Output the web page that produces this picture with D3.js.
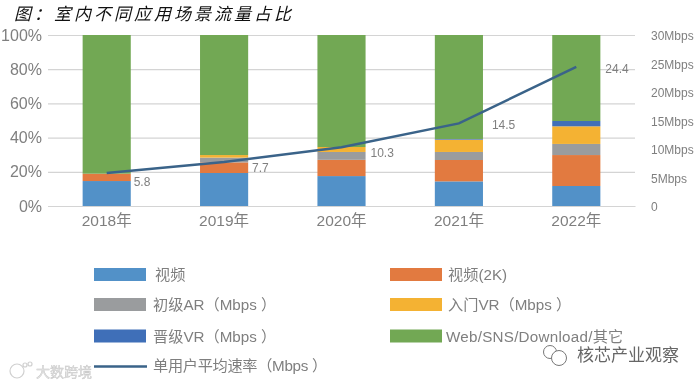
<!DOCTYPE html>
<html>
<head>
<meta charset="utf-8">
<script src="https://cdn.jsdelivr.net/npm/d3@7"></script>
<style>
  html, body { margin: 0; padding: 0; background: #fff; }
  svg { display: block; filter: blur(0.35px); }
  text { font-family: "Liberation Sans", "Noto Sans CJK SC", sans-serif; }
</style>
</head>
<body>
<div id="chart"></div>
<script>
const years = ['2018年', '2019年', '2020年', '2021年', '2022年']
const seriesNames = ['视频', '视频(2K)', '初级AR（Mbps ）', '入门VR（Mbps ）', '晋级VR（Mbps ）', 'Web/SNS/Download/其它']
const seriesColors = ['#5291c8', '#e27a40', '#9a9c9e', '#f4b233', '#3f6fb8', '#72a854']

// share of traffic per year, in percent
const video = [14.6, 19.3, 17.5, 14.4, 11.7]
const video2k = [4.3, 6.2, 9.5, 12.5, 18.1]
const basicAr = [0, 2.8, 4.6, 4.7, 6.5]
const entryVr = [0, 1.5, 2.9, 7.2, 10.3]
const advancedVr = [0, 0, 0, 0.4, 3.1]
const other = [81.1, 70.2, 65.5, 60.8, 50.3]
const seriesValues = [video, video2k, basicAr, entryVr, advancedVr, other]

const lineName = '单用户平均速率（Mbps ）'
const lineColor = '#3a6389'
const speed = [5.8, 7.7, 10.3, 14.5, 24.4]

const leftTicks = [0, 20, 40, 60, 80, 100]
const rightTicks = [0, 5, 10, 15, 20, 25, 30]

const width = 700, height = 385
const margin = {top: 35, right: 65, bottom: 179, left: 48}
const grey = '#7f7f7f'

const svg = d3.select('#chart').append('svg')
    .attr('width', width)
    .attr('height', height)

const plot = svg.append('g')
    .attr('transform', `translate(${margin.left}, ${margin.top})`)
const plotWidth = width - margin.left - margin.right
const plotHeight = height - margin.top - margin.bottom

const xScale = d3.scaleBand().domain(years).range([0, plotWidth]).paddingInner(0.59).paddingOuter(0.295)
const yScale = d3.scaleLinear().domain([0, 100]).range([plotHeight, 0])
const speedScale = d3.scaleLinear().domain([0, 30]).range([plotHeight, 0])

// Gridlines + left axis
const yAxis = d3.axisLeft(yScale).tickValues(leftTicks).tickFormat(d => d + '%')
    .tickSize(-plotWidth).tickPadding(6)
const yAxisG = plot.append('g').call(yAxis)
yAxisG.select('.domain').remove()
yAxisG.selectAll('line').attr('stroke', '#d4d4d4').attr('stroke-width', 1.2)
yAxisG.selectAll('text').attr('fill', grey).style('font-size', '16px')

// Right axis
const speedAxis = d3.axisRight(speedScale).tickValues(rightTicks)
    .tickFormat(d => d === 0 ? '0' : d + 'Mbps').tickSize(0).tickPadding(16)
const speedAxisG = plot.append('g')
    .attr('transform', `translate(${plotWidth}, 1)`)
    .call(speedAxis)
speedAxisG.select('.domain').remove()
speedAxisG.selectAll('text').attr('fill', grey).style('font-size', '12px')

// Stacked bars
const rows = years.map((year, i) => {
    const row = {year}
    seriesNames.forEach((name, s) => { row[name] = seriesValues[s][i] })
    return row
})
const stacked = d3.stack().keys(seriesNames)(rows)
plot.selectAll('.layer').data(stacked).enter().append('g')
    .attr('class', 'layer')
    .attr('fill', (d, i) => seriesColors[i])
  .selectAll('rect').data(d => d).enter().append('rect')
    .attr('x', d => xScale(d.data.year))
    .attr('width', xScale.bandwidth())
    .attr('y', d => yScale(d[1]))
    .attr('height', d => yScale(d[0]) - yScale(d[1]))

// Bottom axis
const xAxis = d3.axisBottom(xScale).tickSize(0).tickPadding(9)
const xAxisG = plot.append('g')
    .attr('transform', `translate(0, ${plotHeight})`)
    .call(xAxis)
xAxisG.select('.domain').attr('stroke', '#d4d4d4').attr('stroke-width', 1.2)
xAxisG.selectAll('text').attr('fill', grey).style('font-size', '15.5px')

// Speed line
const center = i => xScale(years[i]) + xScale.bandwidth() / 2
const line = d3.line().x((d, i) => center(i)).y(d => speedScale(d))
plot.append('path').datum(speed)
    .attr('fill', 'none')
    .attr('stroke', lineColor)
    .attr('stroke-width', 2.5)
    .attr('d', line)

// Labels next to the line points
const labelDx = [27, 28, 29, 33, 29]
const labelDy = [13, 10, 10, 6, 6]
plot.selectAll('.speedLabel').data(speed).enter().append('text')
    .attr('class', 'speedLabel')
    .attr('x', (d, i) => center(i) + labelDx[i])
    .attr('y', d => speedScale(d))
    .attr('dy', (d, i) => labelDy[i])
    .attr('fill', grey)
    .style('font-size', '12px')
    .text(d => d)

// Legend
const legendX = [94, 390]
const legendY = [274.5, 304.5, 336]
const legendTextDx = [61, 58, 59, 58, 59, 56]
const legend = svg.append('g')
seriesNames.forEach((name, i) => {
    const col = i % 2, row = Math.floor(i / 2)
    legend.append('rect')
        .attr('x', legendX[col])
        .attr('y', legendY[row] - 6.5)
        .attr('width', 52)
        .attr('height', 13)
        .attr('fill', seriesColors[i])
    legend.append('text')
        .attr('x', legendX[col] + legendTextDx[i])
        .attr('y', legendY[row] + 5.5)
        .attr('fill', grey)
        .style('font-size', '15.2px')
        .style('letter-spacing', i === 5 ? '0.25px' : null)
        .text(name)
})
legend.append('line')
    .attr('x1', 94).attr('x2', 147)
    .attr('y1', 366.5).attr('y2', 366.5)
    .attr('stroke', lineColor)
    .attr('stroke-width', 2.5)
legend.append('text')
    .attr('x', 153).attr('y', 371)
    .attr('fill', grey)
    .style('font-size', '15.2px')
    .style('letter-spacing', '-0.3px')
    .text(lineName)

// Title
svg.append('text')
    .attr('x', 14).attr('y', 20)
    .attr('fill', '#111')
    .style('font-family', '"Noto Sans CJK SC", sans-serif')
    .style('font-style', 'italic')
    .style('font-size', '17px')
    .style('letter-spacing', '3px')
    .text('图：室内不同应用场景流量占比')

// Watermarks
const wmLeft = svg.append('g').attr('fill', 'none').attr('stroke', '#d0d0d0').attr('stroke-width', 1.2)
wmLeft.append('circle').attr('cx', 17).attr('cy', 371).attr('r', 7)
wmLeft.append('circle').attr('cx', 25).attr('cy', 365).attr('r', 2)
wmLeft.append('circle').attr('cx', 30).attr('cy', 364).attr('r', 2)
svg.append('text')
    .attr('x', 36).attr('y', 377)
    .attr('fill', '#e4e4e4')
    .attr('stroke', '#c4c4c4')
    .attr('stroke-width', 0.4)
    .style('font-size', '14px')
    .text('大数跨境')

const wmRight = svg.append('g').attr('fill', '#fff').attr('stroke', '#777').attr('stroke-width', 1)
wmRight.append('circle').attr('cx', 550).attr('cy', 352).attr('r', 6.5)
wmRight.append('circle').attr('cx', 559).attr('cy', 358).attr('r', 7.5)
svg.append('text')
    .attr('x', 577).attr('y', 361)
    .attr('fill', '#666')
    .style('font-size', '17px')
    .text('核芯产业观察')
</script>
</body>
</html>
